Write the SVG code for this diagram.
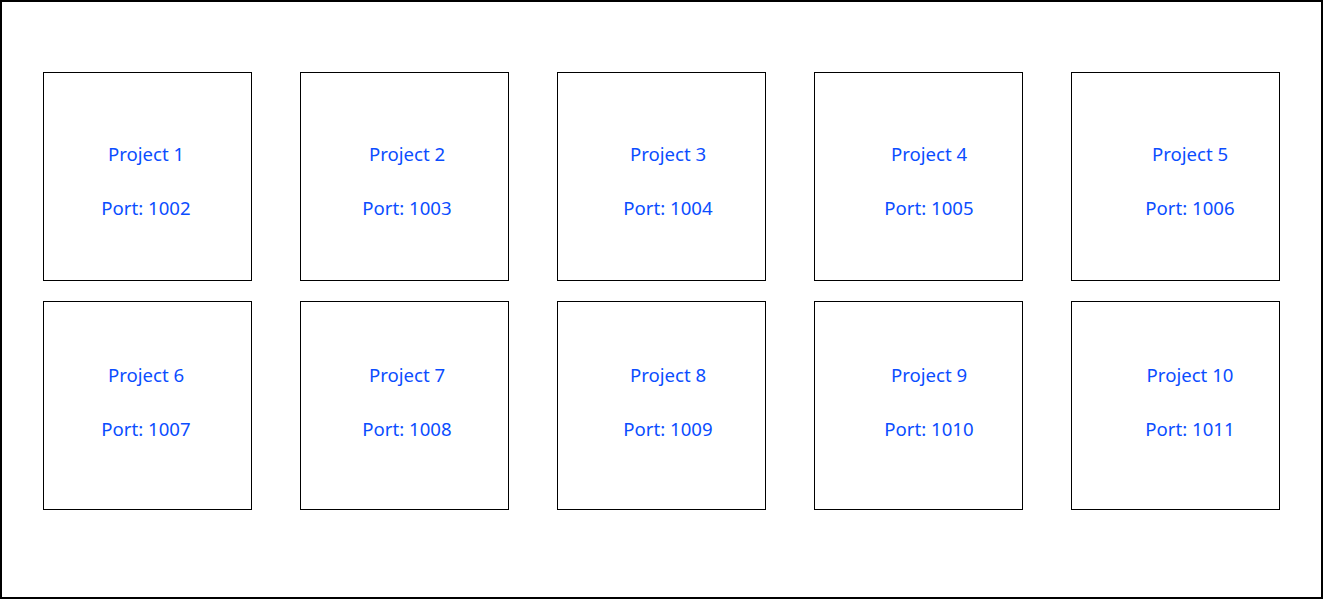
<svg xmlns="http://www.w3.org/2000/svg" width="1323" height="599" viewBox="0 0 1323 599">
<style>
.box{fill:#fff;stroke:#000;stroke-width:1}
.t{font-family:"Noto Sans","Open Sans",sans-serif;font-size:18.6px;fill:#0b4dff;text-anchor:middle}
</style>
<rect x="0" y="0" width="1323" height="599" fill="#fff"/>
<rect x="1" y="1" width="1321" height="597" fill="none" stroke="#000" stroke-width="2"/>
<g id="n1"><rect class="box" x="43.5" y="72.5" width="208" height="208"/><text class="t" x="146" y="161">Project 1</text><text class="t" x="146" y="215">Port: 1002</text></g>
<g id="n2"><rect class="box" x="300.5" y="72.5" width="208" height="208"/><text class="t" x="407" y="161">Project 2</text><text class="t" x="407" y="215">Port: 1003</text></g>
<g id="n3"><rect class="box" x="557.5" y="72.5" width="208" height="208"/><text class="t" x="668" y="161">Project 3</text><text class="t" x="668" y="215">Port: 1004</text></g>
<g id="n4"><rect class="box" x="814.5" y="72.5" width="208" height="208"/><text class="t" x="929" y="161">Project 4</text><text class="t" x="929" y="215">Port: 1005</text></g>
<g id="n5"><rect class="box" x="1071.5" y="72.5" width="208" height="208"/><text class="t" x="1190" y="161">Project 5</text><text class="t" x="1190" y="215">Port: 1006</text></g>
<g id="n6"><rect class="box" x="43.5" y="301.5" width="208" height="208"/><text class="t" x="146" y="382">Project 6</text><text class="t" x="146" y="436">Port: 1007</text></g>
<g id="n7"><rect class="box" x="300.5" y="301.5" width="208" height="208"/><text class="t" x="407" y="382">Project 7</text><text class="t" x="407" y="436">Port: 1008</text></g>
<g id="n8"><rect class="box" x="557.5" y="301.5" width="208" height="208"/><text class="t" x="668" y="382">Project 8</text><text class="t" x="668" y="436">Port: 1009</text></g>
<g id="n9"><rect class="box" x="814.5" y="301.5" width="208" height="208"/><text class="t" x="929" y="382">Project 9</text><text class="t" x="929" y="436">Port: 1010</text></g>
<g id="n10"><rect class="box" x="1071.5" y="301.5" width="208" height="208"/><text class="t" x="1190" y="382">Project 10</text><text class="t" x="1190" y="436">Port: 1011</text></g>
<g id="connectors"></g>
</svg>
